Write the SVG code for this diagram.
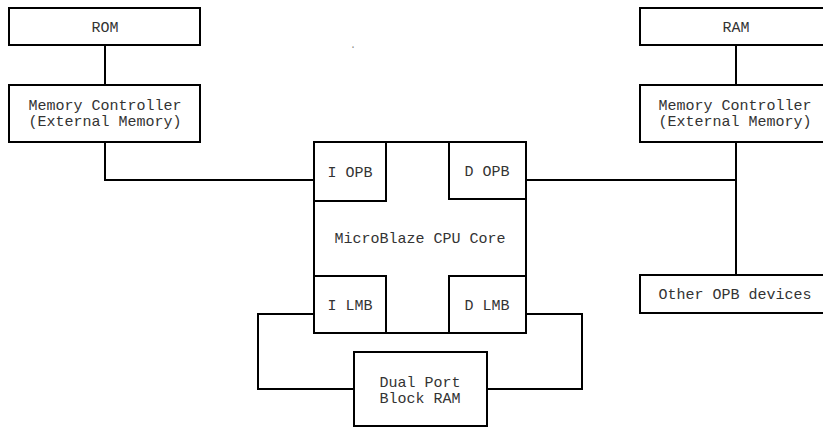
<svg xmlns="http://www.w3.org/2000/svg" width="823" height="428" viewBox="0 0 823 428">
<style>
.b{fill:#fff;stroke:#000;stroke-width:2}
.c{fill:none;stroke:#000;stroke-width:2}
text{font-family:"Liberation Mono","Courier New",monospace;font-size:15px;fill:#333;text-anchor:middle}
</style>
<rect width="823" height="428" fill="#fff"/>
<g id="connectors">
<path class="c" d="M105,45V85"/>
<path class="c" d="M105,142V180H314"/>
<path class="c" d="M736,45V85"/>
<path class="c" d="M526,180H736"/>
<path class="c" d="M736,142V275"/>
<path class="c" d="M314,314H258V389H354"/>
<path class="c" d="M526,314H582V389H487"/>
</g>
<g id="rom"><rect class="b" x="9" y="8" width="191" height="37"/><text x="105" y="32">ROM</text></g>
<g id="memctl1"><rect class="b" x="9" y="85" width="191" height="57"/><text x="105" y="110">Memory Controller</text><text x="105" y="126">(External Memory)</text></g>
<g id="ram"><rect class="b" x="640" y="8" width="195" height="37"/><text x="736" y="32">RAM</text></g>
<g id="memctl2"><rect class="b" x="640" y="85" width="195" height="57"/><text x="735" y="110">Memory Controller</text><text x="735" y="126">(External Memory)</text></g>
<g id="other"><rect class="b" x="640" y="275" width="195" height="38"/><text x="735" y="299">Other OPB devices</text></g>
<g id="core">
<rect class="b" x="314" y="142" width="212" height="191"/>
<text x="420" y="243">MicroBlaze CPU Core</text>
</g>
<g id="iopb"><rect class="b" x="314" y="142" width="72" height="59"/><text x="350" y="177">I OPB</text></g>
<g id="dopb"><rect class="b" x="449" y="142" width="77" height="57"/><text x="487" y="176">D OPB</text></g>
<g id="ilmb"><rect class="b" x="314" y="276" width="72" height="57"/><text x="350" y="310">I LMB</text></g>
<g id="dlmb"><rect class="b" x="449" y="276" width="77" height="57"/><text x="487" y="310">D LMB</text></g>
<g id="bram"><rect class="b" x="354" y="352" width="133" height="74"/><text x="420" y="387">Dual Port</text><text x="420" y="403">Block RAM</text></g>
<text x="353" y="48" style="font-size:10px;fill:#888">.</text>
</svg>
